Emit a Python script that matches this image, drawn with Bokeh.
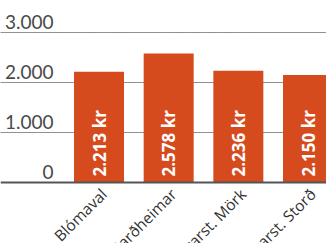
import math
from bokeh.plotting import figure
from bokeh.models import Range1d, FixedTicker, LabelSet, ColumnDataSource, Span, Grid
from bokeh.core.properties import value
from bokeh.embed import file_html
from bokeh.resources import INLINE

# ---- data ----
categories = ["Blómaval", "Garðheimar", "Gróðrarst. Mörk", "Gróðrarst. Storð"]
prices = [2213, 2578, 2236, 2150]
value_labels = ["2.213 kr", "2.578 kr", "2.236 kr", "2.150 kr"]
y_ticks = [0, 1000, 2000, 3000]
y_tick_labels = ["0", "1.000", "2.000", "3.000"]

# ---- layout ----
W, H = 326, 243
px_per_cat = 69.67
first_center_px = 98.5
px_per_unit_y = 0.05          # 50 px per 1000
zero_px = 182                 # baseline from top

x_start = -first_center_px / px_per_cat
x_end = (W - first_center_px) / px_per_cat
y_end = zero_px / px_per_unit_y
y_start = -(H - zero_px) / px_per_unit_y

BAR = "#d64b1e"

p = figure(width=W, height=H, output_backend="svg", toolbar_location=None,
           x_range=Range1d(x_start, x_end), y_range=Range1d(y_start, y_end),
           x_axis_type=None, y_axis_type=None,
           min_border_left=0, min_border_right=0, min_border_top=0, min_border_bottom=0,
           outline_line_color=None, background_fill_color="white")

grid = Grid(dimension=1, ticker=FixedTicker(ticks=y_ticks[1:]),
            grid_line_color="#222222", grid_line_dash="1 1", grid_line_width=1)
p.add_layout(grid)

idx = list(range(len(categories)))
src = ColumnDataSource(dict(x=idx, top=prices, vlab=value_labels, cat=categories,
                            y0=[0] * len(idx)))

p.vbar(x="x", top="top", bottom=0, width=50 / px_per_cat, source=src,
       fill_color=BAR, line_color=None)

p.add_layout(Span(location=y_ticks[0], dimension="width", line_color="#555555", line_width=2))

# value labels inside bars
p.add_layout(LabelSet(x="x", y="y0", text="vlab", source=src, angle=math.pi / 2,
                      text_align="left", text_baseline="middle", y_offset=6,
                      text_color="white", text_font=value("Open Sans"), text_font_style="bold",
                      text_font_size="17px"))

# category labels
p.add_layout(LabelSet(x="x", y="y0", text="cat", source=src, angle=math.pi / 4,
                      text_align="right", text_baseline="top", x_offset=-3, y_offset=-1,
                      text_color="#333333", text_font=value("Open Sans"), text_font_size="15.5px"))

# y tick labels
ysrc = ColumnDataSource(dict(y=y_ticks, t=y_tick_labels, xs=[53] * len(y_ticks)))
p.add_layout(LabelSet(x="xs", y="y", text="t", source=ysrc, x_units="screen",
                      text_align="right", text_baseline="bottom", y_offset=4,
                      text_color="#4a4a4a", text_font=value("Lato"), text_font_size="19px"))

open("out.html", "w").write(file_html(p, INLINE))
